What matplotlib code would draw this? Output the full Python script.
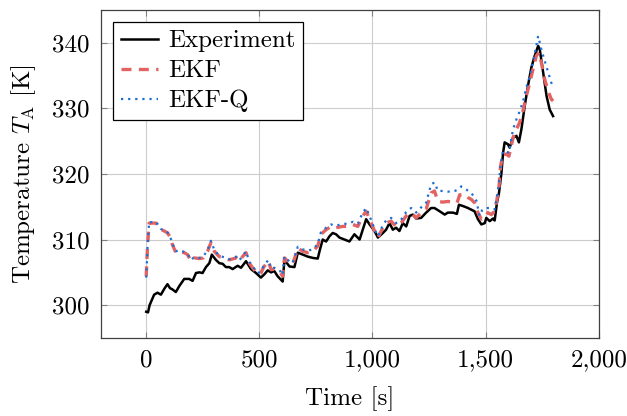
import numpy as np
import matplotlib
matplotlib.use('Agg')
from matplotlib import pyplot as plt
from matplotlib.ticker import FuncFormatter

# measured temperature
t_exp = [0, 8, 15, 20, 35, 50, 65, 80, 94, 105, 116, 131, 146, 168, 190, 205, 220, 235, 249, 264,
         279, 290, 308, 323, 338, 352, 367, 382, 404, 419, 441, 463, 485, 507, 522, 537, 552, 566, 581, 603,
         611, 633, 655, 670, 692, 714, 736, 758, 768, 780, 795, 810, 824, 839, 854, 876, 898, 920, 943, 957,
         972, 987, 1009, 1024, 1046, 1060, 1075, 1090, 1104, 1119, 1134, 1149, 1164, 1178, 1193, 1215, 1237, 1259, 1274, 1297,
         1319, 1333, 1356, 1373, 1382, 1400, 1422, 1451, 1466, 1481, 1496, 1503, 1518, 1533, 1540, 1550, 1559, 1570, 1577, 1584,
         1599, 1606, 1621, 1636, 1647, 1658, 1673, 1687, 1702, 1717, 1732, 1739, 1754, 1769, 1783, 1798]
T_exp = [299.0, 298.9, 300.0, 300.4, 301.6, 301.9, 301.6, 302.5, 303.2, 302.6, 302.4, 302.0, 302.9, 304.0, 304.0, 303.7, 304.9, 305.0, 304.9, 305.8,
         306.4, 307.7, 306.9, 306.4, 306.3, 305.8, 305.8, 305.5, 306.0, 305.7, 306.7, 305.5, 304.9, 304.2, 304.7, 305.3, 305.0, 305.2, 304.4, 303.6,
         306.9, 305.9, 305.8, 308.0, 307.7, 307.4, 307.2, 307.1, 308.5, 310.0, 309.7, 310.5, 311.0, 310.8, 310.3, 310.0, 309.7, 310.8, 310.0, 311.5,
         313.1, 312.3, 311.3, 310.3, 311.0, 311.5, 312.5, 311.5, 311.8, 311.3, 312.5, 312.0, 313.6, 313.8, 313.2, 313.3, 314.1, 314.8, 314.8, 314.3,
         313.8, 314.1, 314.1, 313.9, 315.3, 315.1, 314.8, 314.3, 313.1, 312.3, 312.5, 313.3, 312.8, 313.2, 312.9, 315.6, 317.1, 320.2, 323.2, 324.8,
         324.5, 324.0, 325.5, 325.8, 324.8, 326.8, 330.4, 333.4, 336.2, 338.0, 339.5, 339.0, 335.5, 331.9, 329.8, 328.8]

# EKF estimate
t_ekf = [0, 3, 6, 13, 28, 43, 55, 65, 80, 94, 104, 116, 131, 146, 168, 183, 198, 212, 235, 252,
         271, 286, 301, 323, 345, 367, 397, 411, 426, 441, 456, 470, 493, 507, 519, 540, 552, 566, 588, 603,
         611, 625, 647, 670, 692, 714, 736, 758, 772, 795, 817, 839, 868, 891, 913, 935, 957, 972, 987, 1009,
         1024, 1046, 1060, 1082, 1104, 1126, 1149, 1171, 1193, 1215, 1237, 1259, 1274, 1289, 1311, 1333, 1356, 1374, 1385, 1407,
         1422, 1437, 1451, 1466, 1481, 1496, 1510, 1525, 1540, 1550, 1559, 1566, 1577, 1592, 1603, 1621, 1636, 1650, 1665, 1680,
         1695, 1709, 1724, 1736, 1746, 1761, 1776, 1790, 1798]
T_ekf = [304.4, 306.9, 309.0, 312.5, 312.5, 312.5, 312.0, 311.5, 311.3, 311.0, 310.5, 309.2, 308.0, 308.2, 308.0, 307.7, 306.7, 307.2, 307.1, 307.2,
         308.2, 309.5, 308.2, 307.4, 307.2, 306.9, 307.2, 306.7, 307.4, 308.0, 306.4, 305.7, 304.7, 304.9, 305.8, 306.7, 305.4, 305.5, 305.2, 304.4,
         307.2, 306.7, 306.2, 308.7, 308.2, 308.0, 308.2, 309.0, 310.8, 311.5, 312.0, 311.8, 312.0, 312.0, 312.3, 312.0, 313.6, 314.3, 313.1, 311.3,
         310.3, 311.8, 312.5, 312.8, 312.0, 312.5, 313.6, 314.1, 313.3, 314.1, 314.6, 317.1, 317.4, 315.8, 315.7, 315.8, 315.7, 315.6, 316.8, 316.9,
         316.4, 316.1, 315.6, 314.1, 313.1, 313.3, 314.1, 313.8, 314.3, 316.1, 318.1, 321.2, 323.0, 323.0, 322.7, 325.5, 326.8, 327.8, 329.6, 331.9,
         333.9, 335.9, 338.0, 338.5, 337.0, 334.4, 332.6, 331.4, 331.1]

# EKF with adapted Q
t_ekfq = [0, 3, 6, 13, 28, 43, 55, 65, 80, 94, 104, 116, 131, 146, 168, 183, 198, 212, 235, 252,
          271, 286, 301, 323, 345, 367, 397, 411, 426, 441, 456, 470, 493, 507, 519, 540, 552, 566, 588, 603,
          611, 625, 647, 670, 692, 714, 736, 758, 772, 795, 817, 839, 868, 891, 913, 935, 957, 972, 987, 1009,
          1024, 1046, 1060, 1082, 1104, 1126, 1149, 1171, 1193, 1215, 1237, 1259, 1274, 1289, 1311, 1333, 1356, 1378, 1392, 1415,
          1437, 1459, 1473, 1485, 1496, 1518, 1540, 1550, 1559, 1566, 1577, 1592, 1603, 1621, 1636, 1650, 1665, 1680, 1695, 1709,
          1724, 1732, 1746, 1761, 1776, 1790, 1798]
T_ekfq = [304.2, 306.5, 309.0, 312.7, 312.6, 312.7, 312.1, 311.6, 311.4, 311.1, 310.6, 309.4, 308.2, 308.4, 308.1, 307.8, 306.9, 307.3, 307.2, 307.4,
          308.4, 309.8, 308.4, 307.5, 307.3, 307.0, 307.4, 306.8, 307.5, 308.2, 306.6, 305.9, 304.9, 305.1, 306.0, 306.9, 305.6, 305.7, 305.4, 304.6,
          307.4, 306.9, 306.4, 308.9, 308.5, 308.3, 308.5, 309.3, 311.1, 311.8, 312.3, 312.1, 312.4, 312.4, 312.7, 312.4, 314.1, 314.8, 313.6, 311.6,
          310.5, 312.2, 312.9, 313.3, 312.5, 313.0, 314.2, 314.8, 314.1, 314.9, 315.6, 318.4, 318.7, 317.4, 317.4, 317.3, 317.3, 317.6, 318.1, 317.6,
          317.1, 315.9, 313.6, 314.5, 314.8, 314.8, 314.6, 316.5, 318.6, 321.5, 323.5, 323.4, 323.2, 326.8, 328.3, 329.5, 331.0, 333.2, 334.8, 337.0,
          339.5, 341.0, 339.0, 337.2, 335.5, 333.9, 333.2]

x_ticks = [0, 500, 1000, 1500, 2000]
y_ticks = [300, 310, 320, 330, 340]

plt.rcParams['font.family'] = 'cmr10'
plt.rcParams['mathtext.fontset'] = 'cm'
plt.rcParams['axes.unicode_minus'] = False
plt.rcParams['font.size'] = 18

fig = plt.figure(figsize=(6.27, 4.16), dpi=100)
ax = fig.add_axes([0.161, 0.1875, 0.794, 0.789])

ax.plot(t_exp, T_exp, color='black', lw=1.8, label='Experiment', zorder=3)
ax.plot(t_ekf, T_ekf, color='#e36363', lw=2.4, ls=(0, (3, 2.2)), label='EKF', zorder=4)
ax.plot(t_ekfq, T_ekfq, color='#1a6fd4', lw=1.6, ls=(0, (1, 2.2)), label='EKF-Q', zorder=5)

ax.set_xlim(-200, 2000)
ax.set_ylim(295, 345)
ax.set_xticks(x_ticks)
ax.set_yticks(y_ticks)
ax.xaxis.set_major_formatter(FuncFormatter(lambda v, p: '{:,.0f}'.format(v)))
ax.tick_params(direction='in', top=True, right=True, length=4, color='#808080', pad=8)
ax.grid(color='#cccccc', lw=0.8)
for s in ax.spines.values():
  s.set_color('#404040')
  s.set_linewidth(0.9)

ax.set_xlabel('Time [s]', labelpad=11)
ax.set_ylabel(r'Temperature $T_\mathrm{A}$ [K]', labelpad=10)

leg = ax.legend(loc='upper left', fancybox=False, edgecolor='black', framealpha=1,
                handlelength=1.5, borderaxespad=0.5, borderpad=0.3, labelspacing=0.3, handletextpad=0.4)
leg.get_frame().set_linewidth(0.9)

fig.savefig('out.png', dpi=100)
